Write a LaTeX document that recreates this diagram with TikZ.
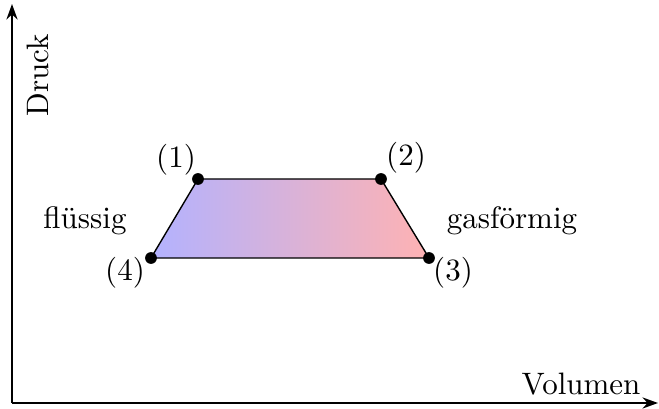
\documentclass[tikz,border=0pt]{standalone}
\usetikzlibrary{arrows.meta}
\begin{document}
\begin{tikzpicture}[x=0.3226pt,y=-0.3226pt,
  axis/.style={line width=0.6pt,-{Stealth[length=5pt,width=3.6pt]}},
  pt/.style={circle,fill=black,inner sep=0pt,minimum size=3.8pt},
  lbl/.style={inner sep=0pt}]
\useasboundingbox (0,0) rectangle (659,409);
\coordinate (O) at (12,403);
\coordinate (Y) at (12,4);
\coordinate (X) at (658,403);
\draw[axis] (O) -- (Y);
\draw[axis] (O) -- (X);
\node[lbl,rotate=90] (druck) at (38,75) {Druck};
\node[lbl] (vol) at (581,384) {Volumen};
\coordinate (p4) at (151,258);
\coordinate (p1) at (198,179);
\coordinate (p2) at (381,179);
\coordinate (p3) at (429,258);
\shade[left color=blue!30,right color=red!30] (p4) -- (p1) -- (p2) -- (p3) -- cycle;
\draw[line width=0.45pt] (p4) -- (p1) -- (p2) -- (p3) -- cycle;
\node[pt] (n1) at (p1) {};
\node[pt] (n2) at (p2) {};
\node[pt] (n3) at (p3) {};
\node[pt] (n4) at (p4) {};
\node[lbl] (l1) at (176,160) {(1)};
\node[lbl] (l2) at (406,158) {(2)};
\node[lbl] (l3) at (453,273) {(3)};
\node[lbl] (l4) at (125,273) {(4)};
\node[lbl] (fl) at (85,221) {flüssig};
\node[lbl] (gas) at (512,221) {gasförmig};
\end{tikzpicture}
\end{document}
